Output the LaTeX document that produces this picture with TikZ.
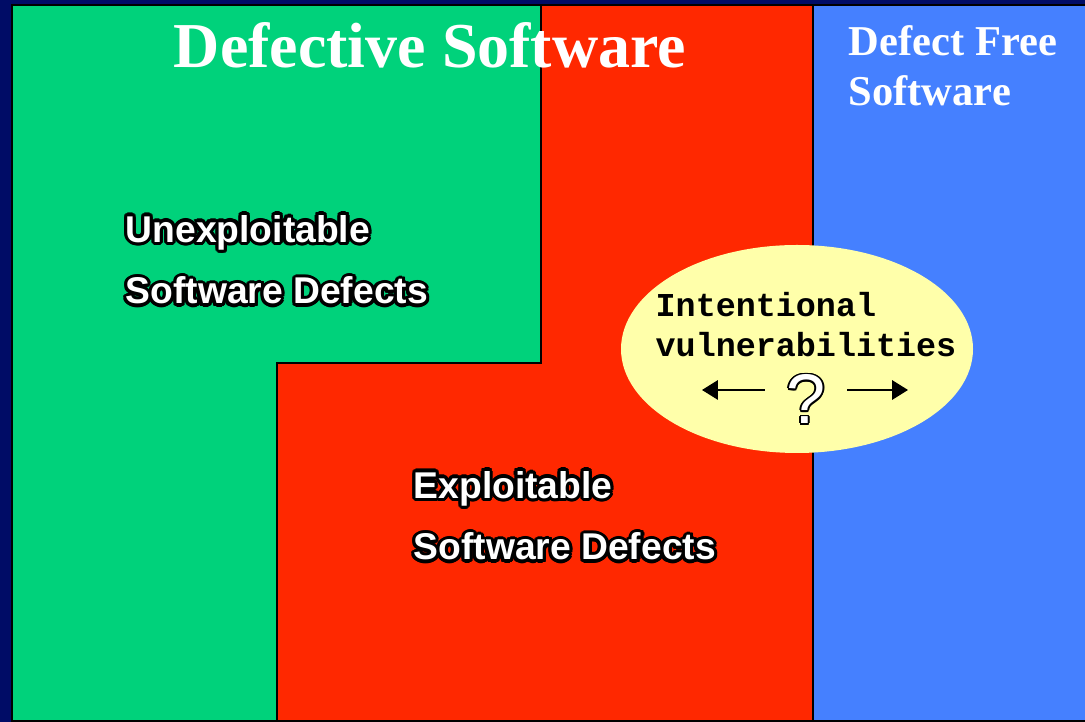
\documentclass[tikz,border=0pt]{standalone}
\usepackage{fontspec}
\usepackage{contour}
\usetikzlibrary{arrows.meta,positioning,shapes.geometric}
\setmainfont{Liberation Serif}
\newfontfamily\labelfont{Liberation Sans}
\newfontfamily\typefont{Liberation Mono}
\definecolor{bgblue}{RGB}{0,12,102}
\definecolor{defgreen}{RGB}{0,210,123}
\definecolor{defred}{RGB}{255,40,0}
\definecolor{freeblue}{RGB}{69,128,255}
\definecolor{vulnyellow}{RGB}{255,255,170}
\contourlength{0.9pt}
\tikzstyle{area}=[draw=black,line width=0.6pt]
\tikzstyle{heading}=[text=white,inner sep=0pt,anchor=base,font=\bfseries\fontsize{18.2}{20}\selectfont]
\tikzstyle{subheading}=[text=white,inner sep=0pt,anchor=base west,align=left,font=\bfseries\fontsize{12.1}{14.5}\selectfont]
\tikzstyle{defects}=[text=white,inner sep=0pt,anchor=base west,align=left,font=\labelfont\bfseries\fontsize{10.6}{17.6}\selectfont]
\tikzstyle{vulntext}=[inner sep=0pt,anchor=base west,align=left,font=\typefont\bfseries\fontsize{9.5}{11.4}\selectfont]
\tikzstyle{pointer}=[-{Triangle[length=4.5pt,width=5.5pt]},line width=0.45pt]

\begin{document}
\begin{tikzpicture}[x=0.1mm,y=-0.1mm]
\useasboundingbox (0,0) rectangle (1085,722);
\fill[bgblue] (0,0) rectangle (1085,722);
% the three areas
\draw[area,fill=defgreen] (12,5) -| (541,363) -| (277,721) -| cycle;
\draw[area,fill=defred] (541,5) -| (813,721) -| (277,363) -| cycle;
\draw[area,fill=freeblue] (813,5) rectangle (1090,721);

% base anchor sits on the last line
\node[heading] (title) at (430,68) {Defective Software};
\node[subheading] (free) at (848,106) {Defect Free\\Software};
\node[defects] (unexpl) at (125,304) {\contour{black}{Unexploitable}\\\contour{black}{Software Defects}};
\node[defects] (expl) at (413,560) {\contour{black}{Exploitable}\\\contour{black}{Software Defects}};

% intentional vulnerabilities
\node[ellipse,fill=vulnyellow,minimum width=3.52cm,minimum height=2.08cm] (vuln) at (797,349) {};
\node[vulntext] (intent) at (655,357) {Intentional\\vulnerabilities};
\node[text=white,inner xsep=6pt,inner ysep=0pt,font=\labelfont\fontsize{20}{20}\selectfont] (qmark) at (806,400) {\contourlength{0.45pt}\contour{black}{?}};
\coordinate (lefttip) at (702,390);
\coordinate (righttip) at (908,390);
\draw[pointer] (qmark.west |- lefttip) -- (lefttip);
\draw[pointer] (qmark.east |- righttip) -- (righttip);
\end{tikzpicture}
\end{document}
